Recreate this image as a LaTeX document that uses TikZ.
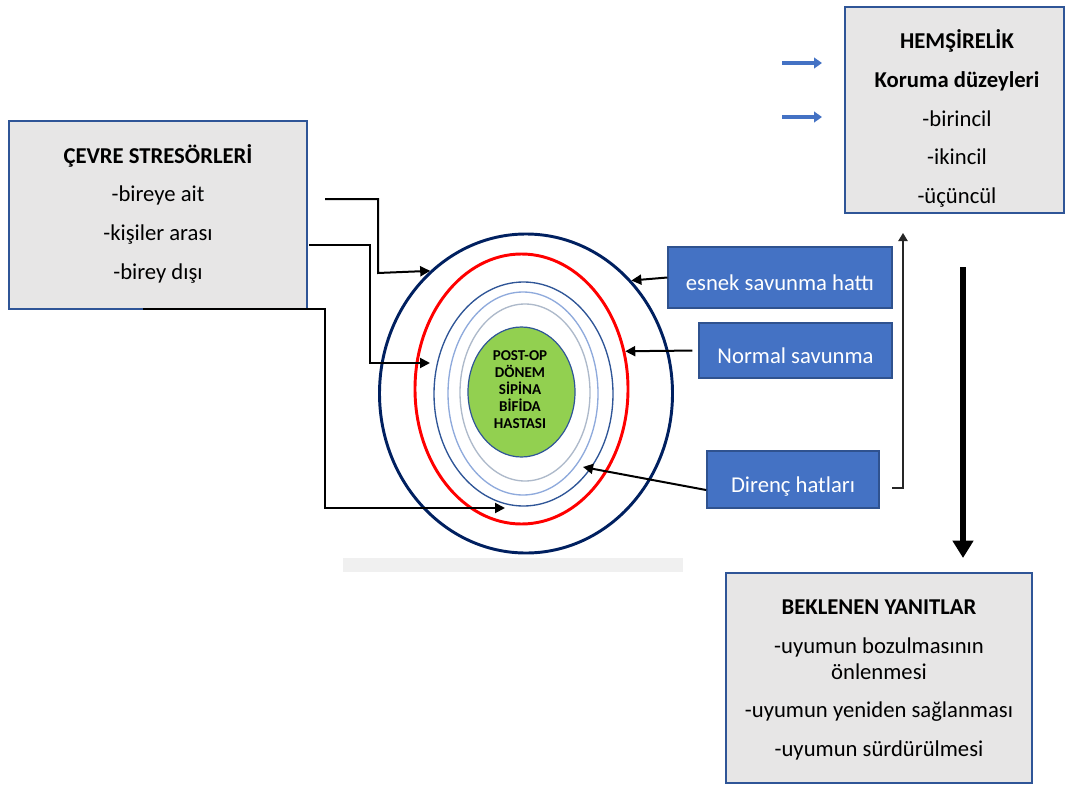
\documentclass[tikz,border=0pt]{standalone}
\usepackage{fontspec}
\setmainfont{Carlito}
\usetikzlibrary{arrows.meta}
\usetikzlibrary{shapes.geometric}

\definecolor{navyRing}{HTML}{002060}
\definecolor{resDark}{HTML}{2F5597}
\definecolor{resMid}{HTML}{8FAADC}
\definecolor{resLight}{HTML}{ADB9CA}
\definecolor{coreGreen}{HTML}{92D050}
\definecolor{boxGray}{HTML}{E7E6E6}
\definecolor{boxEdge}{HTML}{2F5597}
\definecolor{boxBlue}{HTML}{4472C4}
\definecolor{blueEdge}{HTML}{2F528F}
\definecolor{barGray}{HTML}{F0F0F0}

\tikzset{
  ring/.style={ellipse, inner sep=0pt},
  graybox/.style={draw=boxEdge, line width=1.1pt, fill=boxGray},
  boxtext/.style={align=center, inner sep=0pt, font=\fontsize{17}{19.5}\selectfont},
  bluebox/.style={draw=blueEdge, line width=1.1pt, fill=boxBlue, text=white, inner sep=0pt,
    text height=20pt, text depth=0pt, font=\fontsize{17}{20}\selectfont},
  conn/.style={line width=1.5pt, -{Triangle[length=7.5pt,width=7.5pt]}},
  fbline/.style={line width=1pt, black!85, -{Triangle[length=6pt,width=7pt]}},
  bluearrow/.style={boxBlue, line width=3pt, -{Triangle[length=6pt,width=8pt]}}
}

\begin{document}
\begin{tikzpicture}[x=0.75pt,y=-0.75pt]
\fill[white] (0,0) rectangle (1071,785);
\useasboundingbox (0,0) rectangle (1071,785);

\fill[barGray] (343,558) rectangle (683,572);

% halkalar
\node[ring, draw=navyRing, line width=2.2pt, minimum width=219.75pt, minimum height=239.25pt] (flexLine) at (526,393.5) {};
\node[ring, draw=red, line width=2.2pt, minimum width=159.75pt, minimum height=202.5pt] (normLine) at (521.5,389) {};
\node[ring, draw=resDark, line width=1pt, minimum width=134.25pt, minimum height=168pt] (resA) at (523.5,394) {};
\node[ring, draw=resMid, line width=1pt, minimum width=112.5pt, minimum height=152.25pt] (resB) at (523,393.5) {};
\node[ring, draw=resLight, line width=1pt, minimum width=97.5pt, minimum height=132.75pt] (resC) at (525,392.5) {};
\node[ring, draw=resDark, fill=coreGreen, line width=0.9pt, minimum width=80.25pt, minimum height=97.5pt] (core) at (521.5,392) {};
\node[align=center, inner sep=0pt, font=\bfseries\fontsize{11.3}{12.75}\selectfont] (coreTxt) at (520,390) {POST-OP\\DÖNEM\\SİPİNA\\BİFİDA\\HASTASI};

% kutular
\node[graybox, minimum width=223.5pt, minimum height=141pt] (cevre) at (158,215) {};
\node[boxtext] (cevreTxt) at (158,213.5) {\textbf{ÇEVRE STRESÖRLERİ}\\[9.5pt]-bireye ait\\[9.5pt]-kişiler arası\\[9.5pt]-birey dışı};

\node[graybox, minimum width=164.25pt, minimum height=154.5pt] (hem) at (954.5,110) {};
\node[boxtext] (hemTxt) at (957,118.5) {\textbf{HEMŞİRELİK}\\[9.5pt]\textbf{Koruma düzeyleri}\\[9.5pt]-birincil\\[9.5pt]-ikincil\\[9.5pt]-üçüncül};

\node[graybox, minimum width=229.5pt, minimum height=157.5pt] (bek) at (879,678) {};
\node[boxtext] (bekTxt) at (879,680) {\textbf{BEKLENEN YANITLAR}\\[9.5pt]-uyumun bozulmasının\\önlenmesi\\[9.5pt]-uyumun yeniden sağlanması\\[9.5pt]-uyumun sürdürülmesi};

\node[bluebox, minimum width=168pt, minimum height=45.75pt] (esnek) at (780,277.5) {esnek savunma hattı};
\node[bluebox, minimum width=144.75pt, minimum height=41.25pt] (normal) at (795.5,350.5) {Normal savunma};
\node[bluebox, minimum width=129pt, minimum height=42.75pt] (direnc) at (793,479.5) {Direnç hatları};

% stresorler
\coordinate (strA) at (325,199);
\coordinate (kneeA) at (378,273);
\draw[conn] (strA) -| (kneeA) -- (flexLine.128.5);

\coordinate (strB) at (309,245);
\coordinate (kneeB) at (370,363);
\coordinate (tipB) at (430,363);
\draw[conn] (strB) -| (kneeB) -- (tipB);

\coordinate (strC) at (143,309);
\coordinate (kneeC) at (325,508);
\coordinate (tipC) at (505,508);
\draw[conn] (strC) -| (kneeC) -- (tipC);

\draw[conn] (esnek.west) -- (flexLine.47.3);
\draw[conn, shorten <=4.5pt] (normal.west) -- (normLine.20.7);
\coordinate (tipD) at (583,467);
\draw[conn] ([yshift=-7.9pt]direnc.west) -- (tipD);

\coordinate (fbStart) at (892,488);
\coordinate (fbEnd) at (903,233);
\draw[fbline] (fbStart) -| (fbEnd);

\coordinate (bigTop) at (963,267);
\coordinate (bigTip) at (963,558);
\draw[line width=5pt, -{Triangle[length=13pt,width=15pt]}] (bigTop) -- (bigTip);

\foreach \yy [count=\i] in {63,117} {
  \coordinate (bl\i) at (782,\yy);
  \coordinate (br\i) at (822,\yy);
  \draw[bluearrow] (bl\i) -- (br\i);
}
\end{tikzpicture}
\end{document}
